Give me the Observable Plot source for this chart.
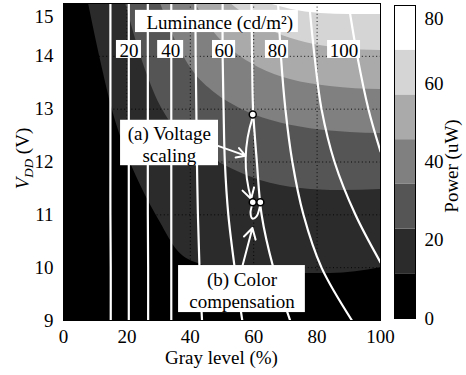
<!DOCTYPE html>
<html><head><meta charset="utf-8">
<script src="https://cdn.jsdelivr.net/npm/d3@7"></script>
<script src="https://cdn.jsdelivr.net/npm/@observablehq/plot@0.6"></script>
<style>
body{margin:0;background:#fff;}
#wrap{position:relative;width:466px;height:375px;}
#wrap svg, #wrap svg text, #wrap svg tspan{font-family:"Liberation Serif","Times New Roman",serif !important;}
#main{position:absolute;left:0;top:0;z-index:2;}
#cbar{position:absolute;left:385px;top:0;z-index:1;}
</style></head><body><div id="wrap"><div id="main"></div><div id="cbar"></div></div>
<script>
// ---- axes / scales ----
const grayTicks = [0, 20, 40, 60, 80, 100];
const vddTicks = [9, 10, 11, 12, 13, 14, 15];
const powerTicks = [0, 20, 40, 60, 80];
const powerLevels = [0, 11.43, 22.86, 34.29, 45.71, 57.14, 68.57, 80];
const bandFills = ["#000000", "#2b2b2b", "#555555", "#808080", "#aaaaaa", "#d5d5d5", "#ffffff"];

// ---- power contour boundaries (gray %, VDD V) ----
const p1Gray = [7.9, 11.7, 15.5, 19.6, 24.3, 30.6, 36.0, 43.2, 53.6, 68.5, 84.2, 100];
const p1Vdd  = [15.0, 13.92, 12.97, 12.22, 11.56, 10.85, 10.32, 10.06, 9.93, 9.89, 9.89, 10.0];
const p2Gray = [19.6, 24.3, 29.0, 35.3, 43.2, 52.7, 62.1, 74.8, 87.4, 100];
const p2Vdd  = [15.0, 14.02, 13.26, 12.63, 12.22, 11.88, 11.65, 11.5, 11.46, 11.48];
const p3Gray = [30.6, 35.3, 40.7, 47.9, 55.8, 65.3, 77.9, 90.5, 100];
const p3Vdd  = [15.0, 14.30, 13.73, 13.30, 13.01, 12.79, 12.63, 12.56, 12.54];
const p4Gray = [41.6, 47.0, 53.3, 61.5, 71.6, 84.2, 100];
const p4Vdd  = [15.0, 14.49, 14.11, 13.79, 13.56, 13.43, 13.37];
const p5Gray = [52.7, 59.0, 66.9, 76.3, 87.4, 100];
const p5Vdd  = [15.0, 14.72, 14.45, 14.26, 14.15, 14.11];
const p6Gray = [64.7, 71.6, 81.1, 90.5, 100];
const p6Vdd  = [15.0, 14.89, 14.81, 14.79, 14.79];

// ---- luminance contours (cd/m2) ----
const lumLevels = [10, 20, 30, 40, 50, 60, 70, 80, 90, 100];
const lumVdd = [15, 14, 13, 12, 11, 10, 9];
const lum10Gray = [14.8, 14.8, 14.8, 14.8, 14.8, 14.9, 14.9];
const lum20Gray = [20.6, 20.6, 20.6, 20.6, 20.6, 20.6, 20.6];
const lum30Gray = [26.6, 26.6, 26.6, 26.6, 26.6, 26.7, 26.7];
const lum40Gray = [34.0, 34.0, 34.0, 34.0, 34.0, 34.0, 34.0];
const lum50Gray = [41.6, 41.7, 41.9, 42.1, 42.4, 42.9, 43.7];
const lum60Gray = [50.2, 50.2, 50.5, 50.9, 52.0, 54.0, 56.4];
const lum70Gray = [59.3, 59.5, 59.8, 61.0, 62.5, 66.2, 71.5];
const lum80Gray = [67.7, 68.6, 70.0, 72.2, 75.7, 81.4, 91.0];
const lum90Vdd  = [15, 14, 13, 12, 11, 10.1];
const lum90Gray = [77.5, 79.2, 81.4, 85.5, 92.1, 100];
const lum100Vdd = [15, 14, 13, 12.2];
const lum100Gray = [89.9, 92.7, 96.2, 100];

// ---- operating points & annotations ----
const pointGray = [59.7, 59.7, 62.1];
const pointVdd = [12.9, 11.24, 11.24];
const hookGray = [59.6, 59.0, 59.6, 60.9, 61.8, 62.1];
const hookVdd = [11.20, 11.04, 10.93, 10.97, 11.12, 11.20];
const arrowX1 = [48.5, 59.7, 56.3];
const arrowY1 = [12.31, 12.85, 10.0];
const arrowX2 = [57.4, 59.2, 59.6];
const arrowY2 = [12.12, 11.30, 10.75];
const arrowBend = [0, -17, 0];

const labelTexts = ["Luminance (cd/m²)", "20", "40", "60", "80", "100", "(a) Voltage\nscaling", "(b) Color\ncompensation"];
const labelGray = [49.3, 20.7, 33.8, 50.6, 67.4, 88.5, 33.4, 56.3];
const labelVdd = [14.66, 14.13, 14.13, 14.13, 14.13, 14.13, 12.35, 9.58];
const boxGray1 = [22.7, 16.7, 29.7, 47.0, 63.7, 83.3, 18.0, 36.3];
const boxGray2 = [74.1, 24.6, 37.9, 54.3, 71.0, 93.7, 48.9, 76.3];
const boxVdd1 = [14.45, 13.96, 13.96, 13.96, 13.96, 13.96, 11.93, 9.15];
const boxVdd2 = [14.87, 14.30, 14.30, 14.30, 14.30, 14.30, 12.79, 10.04];

// ---- build tables ----
const vTop = d3.max(vddTicks);
const boundarySets = [[p1Gray, p1Vdd], [p2Gray, p2Vdd], [p3Gray, p3Vdd], [p4Gray, p4Vdd], [p5Gray, p5Vdd], [p6Gray, p6Vdd]];
const bandMarks = boundarySets.map(([g, v], i) =>
  Plot.areaY(g.map((gv, j) => ({gray: gv, vdd: v[j], top: vTop})),
    {x: "gray", y1: "vdd", y2: "top", fill: bandFills[i + 1], curve: "monotone-x", clip: true}));

const lumSets = [
  [lum10Gray, lumVdd], [lum20Gray, lumVdd], [lum30Gray, lumVdd], [lum40Gray, lumVdd],
  [lum50Gray, lumVdd], [lum60Gray, lumVdd], [lum70Gray, lumVdd], [lum80Gray, lumVdd],
  [lum90Gray, lum90Vdd], [lum100Gray, lum100Vdd]];
const lumRows = lumSets.flatMap(([g, v], i) => g.map((gv, j) => ({lum: lumLevels[i], gray: gv, vdd: v[j]})));
const points = pointGray.map((g, i) => ({gray: g, vdd: pointVdd[i]}));
const hook = hookGray.map((g, i) => ({gray: g, vdd: hookVdd[i]}));
const arrows = arrowX1.map((x, i) => ({x1: x, y1: arrowY1[i], x2: arrowX2[i], y2: arrowY2[i], bend: arrowBend[i]}));
const labels = labelTexts.map((t, i) => ({text: t, gray: labelGray[i], vdd: labelVdd[i],
  g1: boxGray1[i], g2: boxGray2[i], v1: boxVdd1[i], v2: boxVdd2[i]}));

const font = '"Liberation Serif", "Times New Roman", serif';
const fs = 19;
const fmt = d => String(d);

const main = Plot.plot({
  width: 385, height: 375,
  marginLeft: 63, marginRight: 5, marginTop: 3, marginBottom: 55,
  style: {fontFamily: font, fontSize: fs + "px", color: "black", background: "white", overflow: "visible"},
  x: {domain: [0, 100], ticks: grayTicks, tickFormat: fmt, tickSize: 0, tickPadding: 9, label: null},
  y: {domain: [9, 15], ticks: vddTicks, tickFormat: fmt, tickSize: 0, tickPadding: 10, label: null},
  marks: [
    Plot.frame({fill: bandFills[0]}),
    ...bandMarks,
    Plot.gridX(grayTicks, {stroke: "#000", strokeOpacity: 0.9, strokeDasharray: "1,2.6"}),
    Plot.gridY(vddTicks, {stroke: "#000", strokeOpacity: 0.9, strokeDasharray: "1,2.6"}),
    Plot.line(lumRows, {x: "gray", y: "vdd", z: "lum", stroke: "white", strokeWidth: 2.2, curve: "catmull-rom", clip: true}),
    Plot.line(hook, {x: "gray", y: "vdd", stroke: "white", strokeWidth: 2, curve: "catmull-rom"}),
    Plot.arrow(arrows.filter(d => d.bend === 0), {x1: "x1", y1: "y1", x2: "x2", y2: "y2", stroke: "white", strokeWidth: 2, headLength: 9}),
    Plot.arrow(arrows.filter(d => d.bend !== 0), {x1: "x1", y1: "y1", x2: "x2", y2: "y2", bend: arrows.find(d => d.bend !== 0).bend, stroke: "white", strokeWidth: 2, headLength: 9}),
    Plot.dot(points, {x: "gray", y: "vdd", r: 3.5, fill: "white", stroke: "black", strokeWidth: 1.5}),
    Plot.rect(labels, {x1: "g1", x2: "g2", y1: "v1", y2: "v2", fill: "white"}),
    Plot.text(labels, {x: "gray", y: "vdd", text: "text", fill: "black", fontSize: fs, lineHeight: 1.16}),
    Plot.frame({stroke: "black", strokeWidth: 1})
  ]
});
document.getElementById("main").appendChild(main);

const sx = main.scale("x"), sy = main.scale("y");
const msvg = d3.select(main);
// keep the top tick label inside the page
msvg.selectAll("[aria-label='y-axis tick label'] text").filter(function () { return this.textContent === "15"; })
  .attr("dy", "0.72em");
msvg.append("text")
  .attr("x", (sx.apply(0) + sx.apply(100)) / 2).attr("y", 364)
  .attr("text-anchor", "middle").attr("font-size", fs).attr("fill", "black")
  .text("Gray level (%)");
const ylab = msvg.append("text")
  .attr("transform", `translate(29,${(sy.apply(9) + sy.apply(15)) / 2 - 3}) rotate(-90)`)
  .attr("text-anchor", "middle").attr("font-size", fs).attr("fill", "black");
ylab.append("tspan").attr("font-style", "italic").text("V");
ylab.append("tspan").attr("font-style", "italic").attr("font-size", 13).attr("dy", 4).text("DD");
ylab.append("tspan").attr("dy", -4).text(" (V)");

// ---- colorbar ----
const bands = bandFills.map((c, i) => ({lo: powerLevels[i], hi: powerLevels[i + 1], color: c, a: 0, b: 1}));
const cbar = Plot.plot({
  width: 81, height: 375,
  marginLeft: 9, marginRight: 51, marginTop: 5, marginBottom: 57,
  style: {fontFamily: font, fontSize: fs + "px", color: "black", background: "white", overflow: "visible"},
  x: {domain: [0, 1], axis: null},
  y: {domain: [0, 80], axis: "right", ticks: powerTicks, tickFormat: fmt, tickSize: 0, tickPadding: 9, label: null},
  color: {type: "identity"},
  marks: [
    Plot.rect(bands, {x1: "a", x2: "b", y1: "lo", y2: "hi", fill: "color"}),
    Plot.frame({stroke: "black"})
  ]
});
document.getElementById("cbar").appendChild(cbar);
const csvg = d3.select(cbar);
csvg.selectAll("[aria-label='y-axis tick label'] text").filter(function () { return this.textContent === "80"; })
  .attr("dy", "0.7em");
csvg.append("text")
  .attr("transform", "translate(73,166) rotate(-90)")
  .attr("text-anchor", "middle").attr("font-size", fs).attr("fill", "black")
  .text("Power (uW)");
</script></body></html>
